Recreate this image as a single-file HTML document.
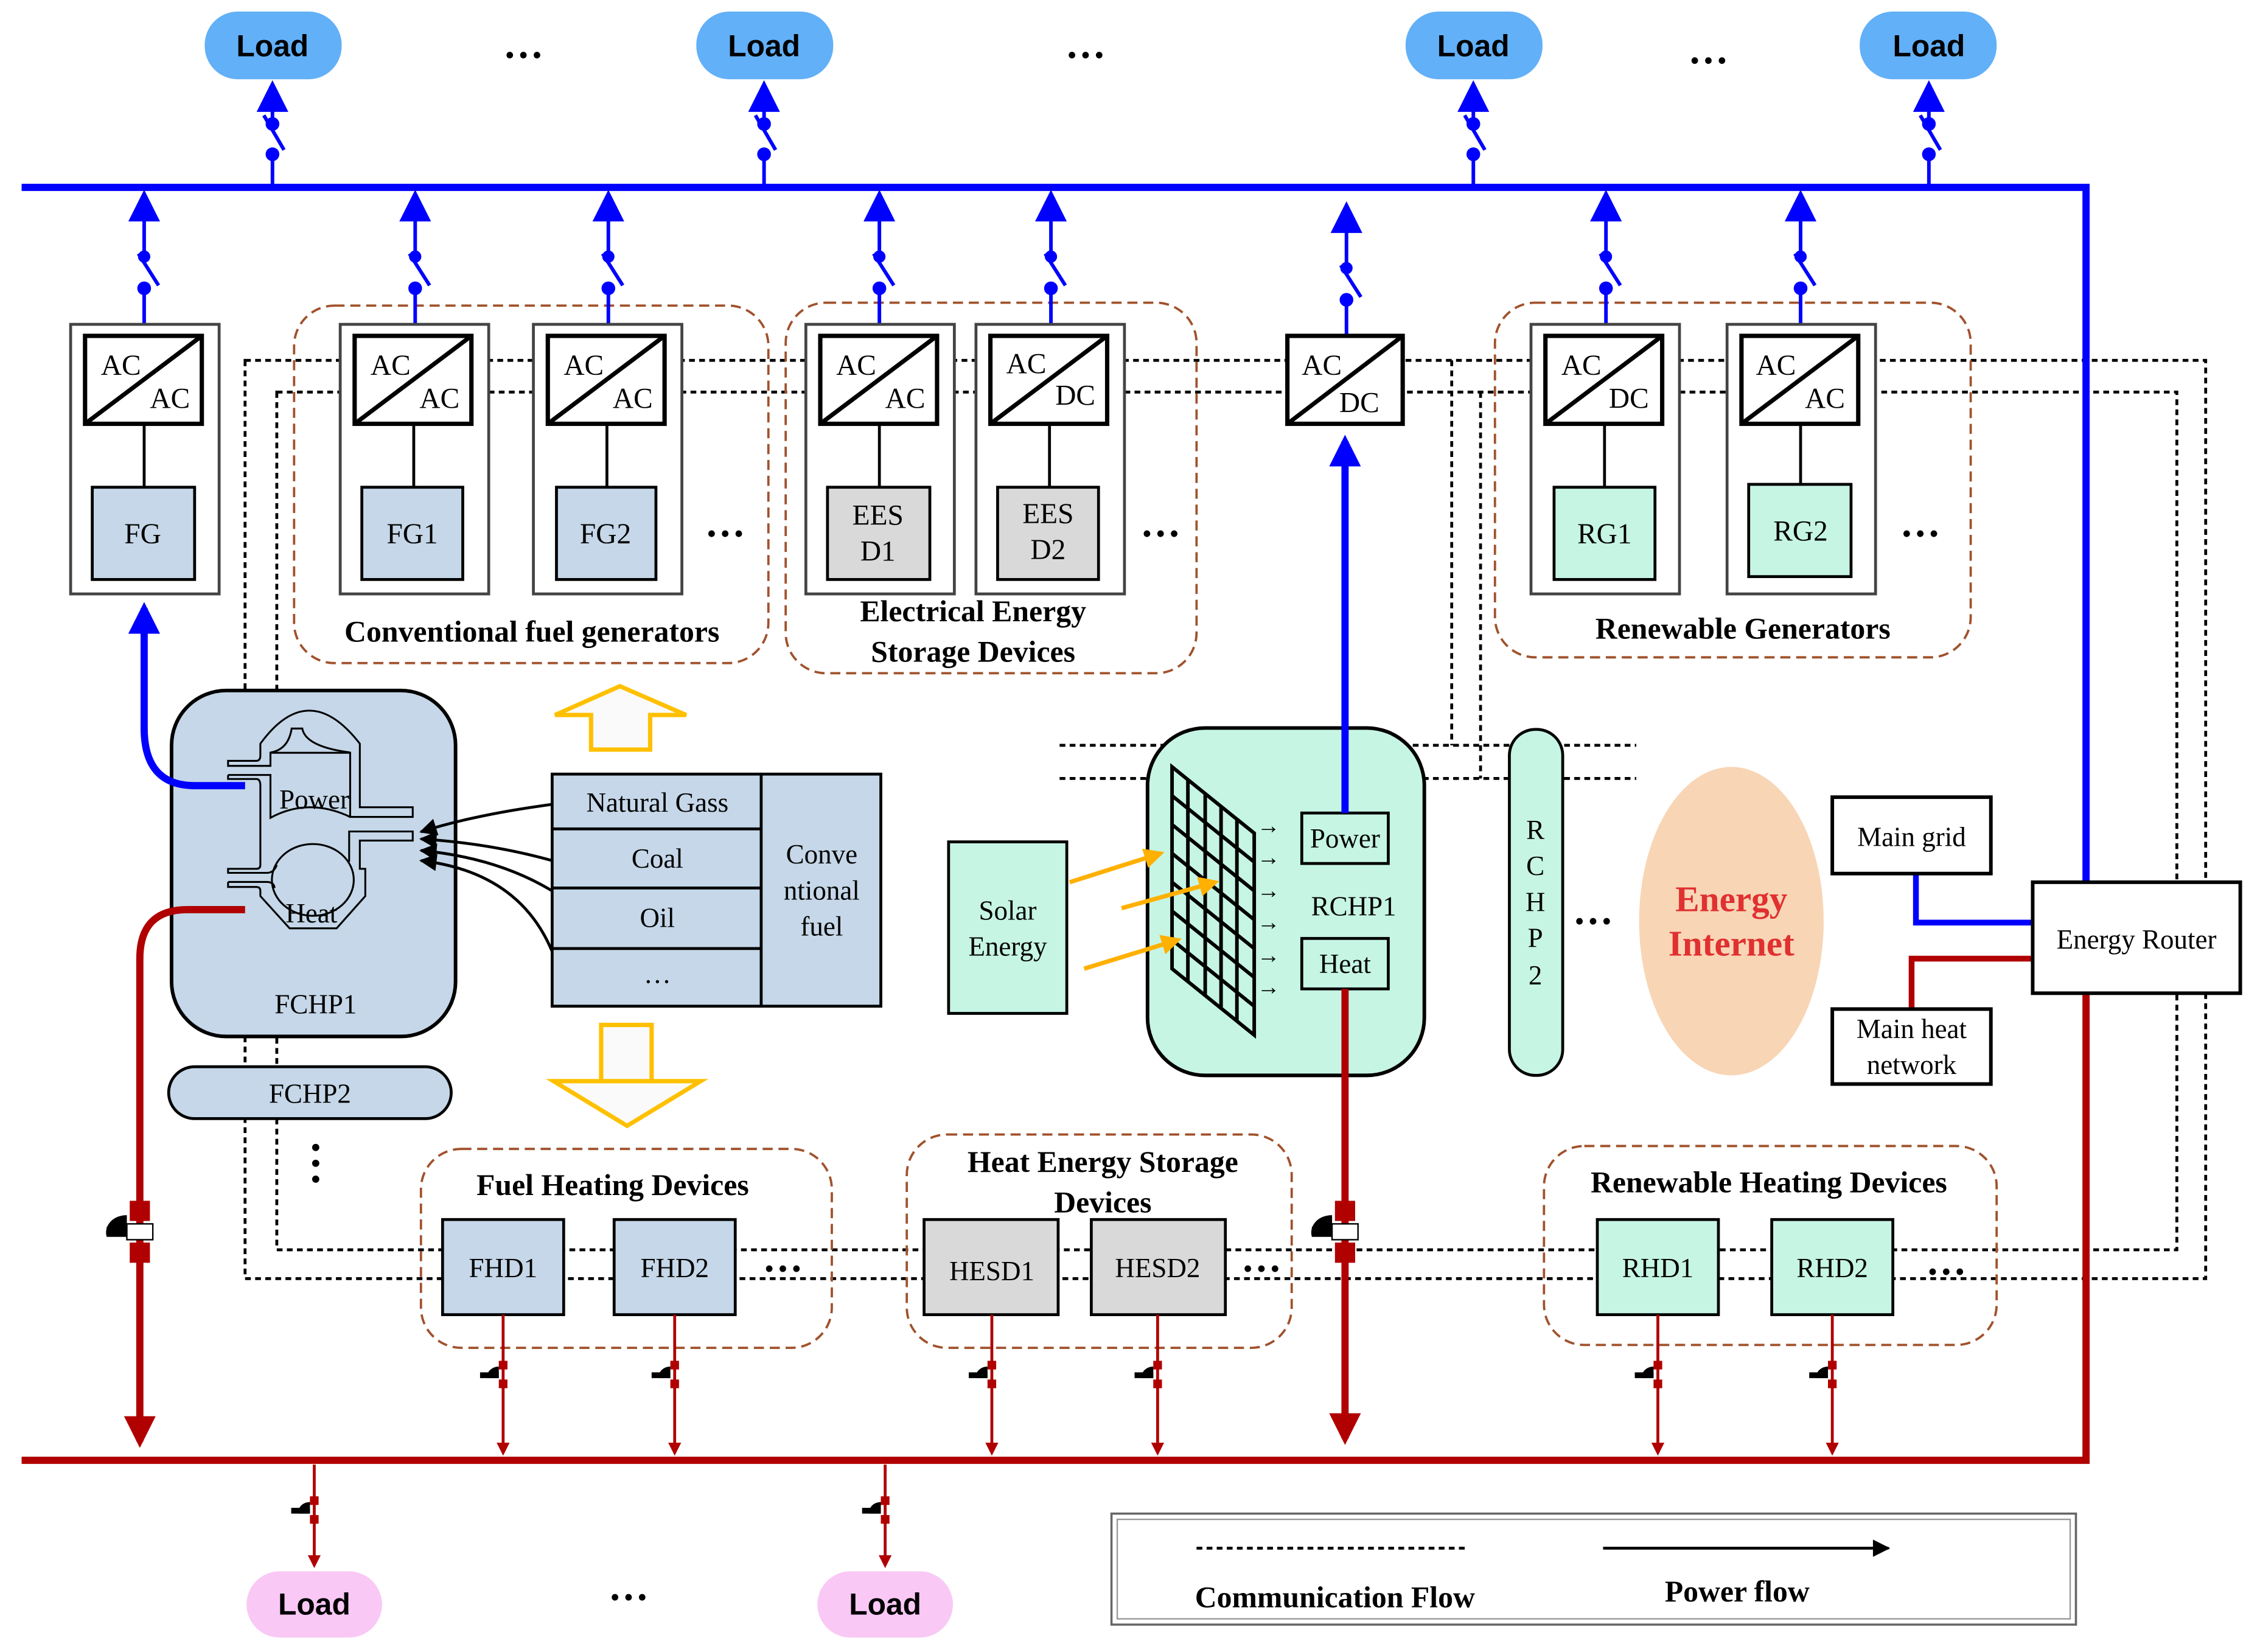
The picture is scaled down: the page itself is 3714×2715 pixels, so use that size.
<!DOCTYPE html>
<html><head><meta charset="utf-8"><style>html,body{margin:0;padding:0;background:#fff}svg{display:block}</style></head>
<body>
<svg xmlns="http://www.w3.org/2000/svg" width="3714" height="2715" viewBox="0 0 1567 1146" preserveAspectRatio="xMinYMin meet" font-family="Liberation Serif, serif">
<defs>
<marker id="abB" viewBox="0 0 10 10" markerWidth="22" markerHeight="22" refX="8" refY="5" orient="auto" markerUnits="userSpaceOnUse"><path d="M0,0 L10,5 L0,10 z" fill="#0000ff"/></marker>
<marker id="ar" viewBox="0 0 10 10" markerWidth="9" markerHeight="9" refX="8" refY="5" orient="auto" markerUnits="userSpaceOnUse"><path d="M0,0 L10,5 L0,10 z" fill="#b00000"/></marker>
<marker id="arB" viewBox="0 0 10 10" markerWidth="22" markerHeight="22" refX="8" refY="5" orient="auto" markerUnits="userSpaceOnUse"><path d="M0,0 L10,5 L0,10 z" fill="#b00000"/></marker>
<marker id="ak" viewBox="0 0 10 10" markerWidth="16" markerHeight="12" refX="9" refY="5" orient="auto" markerUnits="userSpaceOnUse"><path d="M0,0 L10,5 L0,10 z" fill="#000"/></marker>
<marker id="ay" viewBox="0 0 10 10" markerWidth="14" markerHeight="14" refX="8" refY="5" orient="auto" markerUnits="userSpaceOnUse"><path d="M0,0 L10,5 L0,10 z" fill="#ffb000"/></marker>
</defs>

<g fill="none" stroke="#000" stroke-width="2" stroke-dasharray="4,3">
<path d="M170,250 H1530 V887 H170 Z"/>
<path d="M192,272 H1510 V867 H192 Z"/>
<path d="M735,517 H1135 M735,540 H1135 M1007,250 V517 M1027,272 V540"/>
</g>

<g fill="none" stroke="#a0522d" stroke-width="1.6" stroke-dasharray="7,4">
<rect x="204" y="212" width="329" height="248" rx="28"/>
<rect x="545" y="210" width="285" height="257" rx="28"/>
<rect x="1037" y="210" width="330" height="246" rx="28"/>
<rect x="292" y="797" width="285" height="138" rx="28"/>
<rect x="629" y="787" width="267" height="148" rx="28"/>
<rect x="1071" y="795" width="314" height="138" rx="28"/>
</g>

<path d="M15,130 H1447 V612" fill="none" stroke="#0000ff" stroke-width="5"/>
<path d="M15,1013 H1447 V689" fill="none" stroke="#b00000" stroke-width="5"/>

<g font-family="Liberation Sans, sans-serif" font-weight="bold" font-size="21" text-anchor="middle">
<rect x="142" y="8" width="95" height="47" rx="23" fill="#62b0f7"/><text x="189" y="39">Load</text>
<rect x="483" y="8" width="95" height="47" rx="23" fill="#62b0f7"/><text x="530" y="39">Load</text>
<rect x="975" y="8" width="95" height="47" rx="23" fill="#62b0f7"/><text x="1022" y="39">Load</text>
<rect x="1290" y="8" width="95" height="47" rx="23" fill="#62b0f7"/><text x="1338" y="39">Load</text>
</g>
<g font-size="28" font-weight="bold" text-anchor="middle">
<text x="363" y="40">…</text><text x="753" y="40">…</text><text x="1185" y="44">…</text>
</g>

<g stroke="#0000ff" stroke-width="2.5" fill="#0000ff">
<g id="swL"><line x1="189" y1="130" x2="189" y2="107"/><circle cx="189" cy="107" r="3.5"/><line x1="183" y1="80" x2="197" y2="104"/><circle cx="189" cy="86" r="3.5"/><line x1="189" y1="86" x2="189" y2="60" marker-end="url(#abB)"/></g>
<use href="#swL" x="341"/><use href="#swL" x="833"/><use href="#swL" x="1149"/>
<g id="swC"><line x1="100" y1="225" x2="100" y2="200"/><circle cx="100" cy="200" r="3.5"/><line x1="96" y1="176" x2="110" y2="198"/><circle cx="100" cy="178" r="3"/><line x1="100" y1="178" x2="100" y2="136" marker-end="url(#abB)"/></g>
<use href="#swC" x="188"/><use href="#swC" x="322"/><use href="#swC" x="510"/><use href="#swC" x="629"/><use href="#swC" x="834" y="8"/><use href="#swC" x="1014"/><use href="#swC" x="1149"/>
</g>

<g font-size="20" fill="#000">
<g id="cv">
<rect x="49" y="225" width="103" height="187" fill="#fff" stroke="#444" stroke-width="2"/>
<rect x="59" y="233" width="81" height="61" fill="#fff" stroke="#000" stroke-width="3"/>
<line x1="59" y1="294" x2="140" y2="233" stroke="#000" stroke-width="3"/>
<line x1="100" y1="294" x2="100" y2="338" stroke="#000" stroke-width="2"/>
</g>
<use href="#cv" x="187"/><use href="#cv" x="321"/><use href="#cv" x="510"/><use href="#cv" x="628"/><use href="#cv" x="1013"/><use href="#cv" x="1149"/>
<rect x="893" y="233" width="80" height="61" fill="#fff" stroke="#000" stroke-width="3"/>
<line x1="893" y1="294" x2="973" y2="233" stroke="#000" stroke-width="3"/>
<text x="70" y="260">AC</text><text x="104" y="283">AC</text>
<text x="257" y="260">AC</text><text x="291" y="283">AC</text>
<text x="391" y="260">AC</text><text x="425" y="283">AC</text>
<text x="580" y="260">AC</text><text x="614" y="283">AC</text>
<text x="698" y="259">AC</text><text x="732" y="281">DC</text>
<text x="903" y="260">AC</text><text x="929" y="286">DC</text>
<text x="1083" y="260">AC</text><text x="1116" y="283">DC</text>
<text x="1218" y="260">AC</text><text x="1252" y="283">AC</text>
</g>

<g stroke="#000" stroke-width="2">
<rect x="64" y="338" width="71" height="64" fill="#c5d7e8"/>
<rect x="251" y="338" width="70" height="64" fill="#c5d7e8"/>
<rect x="386" y="338" width="69" height="64" fill="#c5d7e8"/>
<rect x="574" y="338" width="71" height="64" fill="#d9d9d9"/>
<rect x="692" y="338" width="70" height="64" fill="#d9d9d9"/>
<rect x="1078" y="338" width="70" height="64" fill="#c6f5e4"/>
<rect x="1213" y="336" width="71" height="64" fill="#c6f5e4"/>
</g>
<g font-size="20" text-anchor="middle">
<text x="99" y="377">FG</text><text x="286" y="377">FG1</text><text x="420" y="377">FG2</text>
<text x="609" y="364">EES</text><text x="609" y="389">D1</text>
<text x="727" y="363">EES</text><text x="727" y="388">D2</text>
<text x="1113" y="377">RG1</text><text x="1249" y="375">RG2</text>
</g>
<g font-size="28" font-weight="bold" text-anchor="middle">
<text x="503" y="372">…</text><text x="805" y="372">…</text><text x="1332" y="372">…</text>
<text x="1105" y="641">…</text><text x="543" y="882">…</text><text x="875" y="882">…</text><text x="1350" y="884">…</text>
<text x="436" y="1110">…</text>
</g>
<g font-size="21" font-weight="bold" text-anchor="middle">
<text x="369" y="445">Conventional fuel generators</text>
<text x="675" y="431">Electrical Energy</text><text x="675" y="459">Storage Devices</text>
<text x="1209" y="443">Renewable Generators</text>
<text x="425" y="829">Fuel Heating Devices</text>
<text x="765" y="813">Heat Energy Storage</text><text x="765" y="841">Devices</text>
<text x="1227" y="827">Renewable Heating Devices</text>
</g>

<!-- FCHP1 -->
<rect x="119" y="479" width="197" height="240" rx="38" fill="#c5d7e8" stroke="#000" stroke-width="2.5"/>
<g fill="none" stroke="#000" stroke-width="1.3">
<path d="M180.6,524 V515.9 Q214,470 249.6,515.9 V560 H286.3 V566.7 H242.9 V522.2 H187.6 V531.3 H158.2 V527.8 H177.8 Q180.6,527.8 180.6,524"/>
<path d="M158.2,537.6 H187.6 V567.3 Q214,553 242.9,566.7"/>
<path d="M187.6,522 Q200,520 202.3,505.4 H209.7 Q212,518 242.9,522"/>
<path d="M158.2,537.6 V540.4 H177.8 Q180.6,540.4 180.6,545 V600 Q180.6,602.7 177.8,602.7 H158.2 V605.5 H185 Q190,605.5 192,600"/>
<path d="M158.2,611.8 V615.3 H177.8 Q180.6,615.3 180.6,618 V621.6 L200.9,644 H233.5 L253.4,621.6 V602.7 H249.6 V583.1 H286.3 V576.8 H242.2 V597.8"/>
<path d="M158.2,611.8 H185 Q190,611.8 190.5,616"/>
<ellipse cx="217" cy="610.4" rx="28.4" ry="24.9"/>
</g>
<g stroke="#000" stroke-width="2" fill="none">
<path d="M383,558 Q330,565 292,577" marker-end="url(#ak)"/>
<path d="M383,597 Q340,585 292,582" marker-end="url(#ak)"/>
<path d="M383,618 Q345,595 292,590" marker-end="url(#ak)"/>
<path d="M383,660 Q360,605 292,597" marker-end="url(#ak)"/>
</g>
<g font-size="19" text-anchor="middle">
<text x="218" y="561">Power</text><text x="216" y="640">Heat</text><text x="219" y="703">FCHP1</text>
</g>
<rect x="117" y="740" width="196" height="36" rx="18" fill="#c5d7e8" stroke="#000" stroke-width="2"/>
<text x="215" y="765" font-size="19" text-anchor="middle">FCHP2</text>
<g fill="#000"><circle cx="219" cy="796" r="2.5"/><circle cx="219" cy="807" r="2.5"/><circle cx="219" cy="818" r="2.5"/></g>

<g stroke="#000" stroke-width="2" fill="#c5d7e8">
<rect x="383" y="537" width="228" height="161"/>
<line x1="528" y1="537" x2="528" y2="698"/>
<line x1="383" y1="575" x2="528" y2="575"/><line x1="383" y1="616" x2="528" y2="616"/><line x1="383" y1="658" x2="528" y2="658"/>
</g>
<g font-size="19" text-anchor="middle">
<text x="456" y="563">Natural Gass</text><text x="456" y="602">Coal</text><text x="456" y="643">Oil</text><text x="456" y="682">…</text>
<text x="570" y="599">Conve</text><text x="570" y="624">ntional</text><text x="570" y="649">fuel</text>
</g>
<g fill="#fafafa" stroke="#ffc000" stroke-width="3">
<path d="M385,496 L430,476 L476,496 H451 V520 H410 V496 Z"/>
<path d="M453,711 V750 H522 L471,781 L420,750 H488 V711 Z" transform="translate(-36,0)"/>
</g>

<rect x="658" y="584" width="82" height="119" fill="#c6f5e4" stroke="#000" stroke-width="2"/>
<text x="699" y="638" font-size="19" text-anchor="middle">Solar</text><text x="699" y="663" font-size="19" text-anchor="middle">Energy</text>
<rect x="796" y="505" width="192" height="241" rx="40" fill="#c6f5e4" stroke="#000" stroke-width="2.5"/>
<g stroke="#000" stroke-width="2.5" fill="none">
<path d="M813,532 L870,578 V718 L813,672 Z"/>
<path d="M813,552 L870,598 M813,572 L870,618 M813,592 L870,638 M813,612 L870,658 M813,632 L870,678 M813,652 L870,698"/>
<path d="M824,541 V681 M836,551 V691 M847,560 V700 M858,569 V709"/>
</g>
<g font-size="16" fill="#000"><text x="872" y="578">→</text><text x="872" y="600">→</text><text x="872" y="623">→</text><text x="872" y="645">→</text><text x="872" y="668">→</text><text x="872" y="690">→</text></g>
<g stroke="#ffb000" stroke-width="3" fill="none">
<line x1="742" y1="612" x2="805" y2="592" marker-end="url(#ay)"/>
<line x1="778" y1="630" x2="843" y2="612" marker-end="url(#ay)"/>
<line x1="752" y1="672" x2="817" y2="652" marker-end="url(#ay)"/>
</g>
<rect x="903" y="564" width="60" height="35" fill="#c6f5e4" stroke="#000" stroke-width="2"/>
<rect x="903" y="651" width="60" height="35" fill="#c6f5e4" stroke="#000" stroke-width="2"/>
<g font-size="19" text-anchor="middle"><text x="933" y="588">Power</text><text x="939" y="635">RCHP1</text><text x="933" y="675">Heat</text></g>

<rect x="1047" y="506" width="37" height="240" rx="18" fill="#c6f5e4" stroke="#000" stroke-width="2"/>
<g font-size="19" text-anchor="middle"><text x="1065" y="582">R</text><text x="1065" y="607">C</text><text x="1065" y="632">H</text><text x="1065" y="657">P</text><text x="1065" y="683">2</text></g>

<ellipse cx="1201" cy="639" rx="64" ry="107" fill="#f8d5b5"/>
<g font-size="25" font-weight="bold" fill="#e03030" text-anchor="middle"><text x="1201" y="632">Energy</text><text x="1201" y="663">Internet</text></g>

<path d="M1329,606 V640 H1410" fill="none" stroke="#0000ff" stroke-width="4"/>
<path d="M1410,665 H1326 V700" fill="none" stroke="#b00000" stroke-width="4"/>
<rect x="1271" y="553" width="110" height="53" fill="#fff" stroke="#000" stroke-width="2.5"/>
<rect x="1271" y="700" width="110" height="52" fill="#fff" stroke="#000" stroke-width="2.5"/>
<rect x="1410" y="612" width="144" height="77" fill="#fff" stroke="#000" stroke-width="2.5"/>
<g font-size="19" text-anchor="middle"><text x="1326" y="587">Main grid</text><text x="1326" y="720">Main heat</text><text x="1326" y="745">network</text><text x="1482" y="658">Energy Router</text></g>

<path d="M170,545 H135 Q100,545 100,505 V422" fill="none" stroke="#0000ff" stroke-width="5" marker-end="url(#abB)"/>
<path d="M170,631 H130 Q97,631 97,665 V1000" fill="none" stroke="#b00000" stroke-width="5" marker-end="url(#arB)"/>
<line x1="933" y1="564" x2="933" y2="306" stroke="#0000ff" stroke-width="5" marker-end="url(#abB)"/>
<line x1="933" y1="686" x2="933" y2="998" stroke="#b00000" stroke-width="5" marker-end="url(#arB)"/>

<g id="vb">
<rect x="90" y="833" width="14" height="14" fill="#b00000"/><rect x="90" y="862" width="14" height="14" fill="#b00000"/>
<rect x="88" y="849" width="18" height="11" fill="#fff" stroke="#000" stroke-width="1"/>
<path d="M88,843 A14,12 0 0 0 74,858 H88 Z" fill="#000"/>
<rect x="74" y="851" width="14" height="6" fill="#000"/>
</g>
<use href="#vb" x="836"/>

<g stroke="#000" stroke-width="2">
<rect x="307" y="846" width="84" height="66" fill="#c5d7e8"/>
<rect x="426" y="846" width="84" height="66" fill="#c5d7e8"/>
<rect x="641" y="846" width="93" height="66" fill="#d9d9d9"/>
<rect x="757" y="846" width="93" height="66" fill="#d9d9d9"/>
<rect x="1108" y="846" width="84" height="66" fill="#c6f5e4"/>
<rect x="1229" y="846" width="84" height="66" fill="#c6f5e4"/>
</g>
<g font-size="19" text-anchor="middle">
<text x="349" y="886">FHD1</text><text x="468" y="886">FHD2</text><text x="688" y="888">HESD1</text><text x="803" y="886">HESD2</text><text x="1150" y="886">RHD1</text><text x="1271" y="886">RHD2</text>
</g>

<g id="vs">
<line x1="349" y1="912" x2="349" y2="1008" stroke="#b00000" stroke-width="2" marker-end="url(#ar)"/>
<rect x="346" y="944" width="6" height="6" fill="#b00000"/><rect x="346" y="957" width="6" height="6" fill="#b00000"/>
<path d="M346,948 A8,7 0 0 0 338,956 H346 Z" fill="#000"/><rect x="333" y="952" width="13" height="4" fill="#000"/>
</g>
<use href="#vs" x="119"/><use href="#vs" x="339"/><use href="#vs" x="454"/><use href="#vs" x="801"/><use href="#vs" x="922"/>
<g id="vl">
<line x1="218" y1="1016" x2="218" y2="1086" stroke="#b00000" stroke-width="2" marker-end="url(#ar)"/>
<rect x="215" y="1038" width="6" height="6" fill="#b00000"/><rect x="215" y="1051" width="6" height="6" fill="#b00000"/>
<path d="M215,1042 A8,7 0 0 0 207,1050 H215 Z" fill="#000"/><rect x="202" y="1046" width="13" height="4" fill="#000"/>
</g>
<use href="#vl" x="396"/>
<g font-family="Liberation Sans, sans-serif" font-weight="bold" font-size="21" text-anchor="middle">
<rect x="171" y="1090" width="94" height="46" rx="23" fill="#f9c8f5"/><text x="218" y="1120">Load</text>
<rect x="567" y="1090" width="94" height="46" rx="23" fill="#f9c8f5"/><text x="614" y="1120">Load</text>
</g>

<rect x="771" y="1050" width="669" height="77" fill="#fff" stroke="#666" stroke-width="1.5"/>
<rect x="775" y="1054" width="661" height="69" fill="none" stroke="#999" stroke-width="1"/>
<line x1="830" y1="1074" x2="1018" y2="1074" stroke="#000" stroke-width="2" stroke-dasharray="4,3"/>
<line x1="1112" y1="1074" x2="1310" y2="1074" stroke="#000" stroke-width="2" marker-end="url(#ak)"/>
<g font-size="21" font-weight="bold" text-anchor="middle"><text x="926" y="1115">Communication Flow</text><text x="1205" y="1111">Power flow</text></g>
</svg>
</body></html>
